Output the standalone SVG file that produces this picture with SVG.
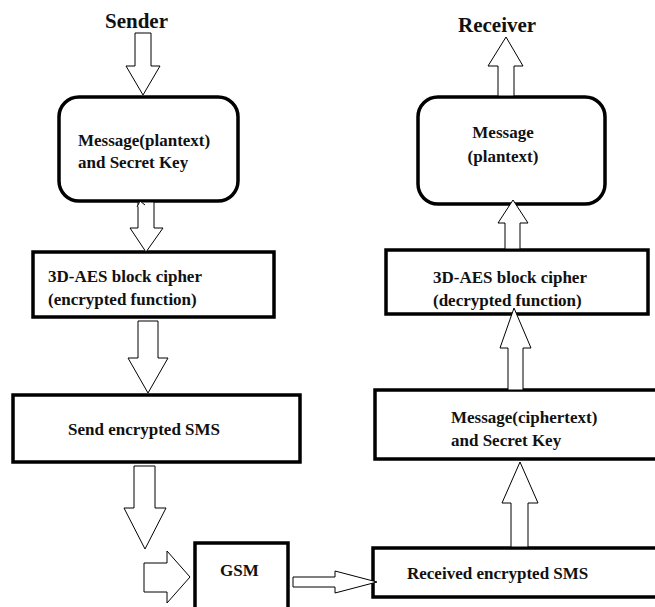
<svg xmlns="http://www.w3.org/2000/svg" width="655" height="607" viewBox="0 0 655 607">
<style>
.box{fill:#fff;stroke:#000;stroke-width:3.5}
.arr{fill:#fff;stroke:#000;stroke-width:1}
.t{font-family:'Liberation Serif',serif;font-weight:700;fill:#111;font-size:17px}
.title{font-size:21px}
</style>
<rect width="655" height="607" fill="#fff"/>
<g id="sender"><text class="t title" x="105" y="28">Sender</text></g>
<g id="receiver"><text class="t title" x="458" y="32">Receiver</text></g>
<g id="msg-plain-sender">
<rect class="box" x="59" y="97" width="179" height="104" rx="20"/>
<text class="t" x="78" y="146">Message(plantext)</text>
<text class="t" x="78" y="168">and Secret Key</text>
</g>
<g id="enc-cipher">
<rect class="box" x="33" y="252" width="241" height="65"/>
<text class="t" x="48" y="282">3D-AES block cipher</text>
<text class="t" x="48" y="305">(encrypted function)</text>
</g>
<g id="send-sms">
<rect class="box" x="13" y="395" width="287" height="67"/>
<text class="t" x="68" y="435">Send encrypted SMS</text>
</g>
<g id="gsm">
<rect class="box" x="195" y="543" width="93" height="70"/>
<text class="t" x="220" y="576">GSM</text>
</g>
<g id="received-sms">
<rect class="box" x="373" y="548" width="290" height="49"/>
<text class="t" x="407" y="579">Received encrypted SMS</text>
</g>
<g id="msg-cipher">
<rect class="box" x="375" y="390" width="290" height="69"/>
<text class="t" x="451" y="423">Message(ciphertext)</text>
<text class="t" x="451" y="446">and Secret Key</text>
</g>
<g id="dec-cipher">
<rect class="box" x="386" y="250" width="262" height="64"/>
<text class="t" x="433" y="283">3D-AES block cipher</text>
<text class="t" x="433" y="306">(decrypted function)</text>
</g>
<g id="msg-plain-receiver">
<rect class="box" x="418" y="97" width="187" height="107" rx="20"/>
<text class="t" x="503" y="138" text-anchor="middle">Message</text>
<text class="t" x="503" y="162" text-anchor="middle">(plantext)</text>
</g>
<g id="connectors">
<polygon class="arr" points="135,33 151,33 151,66 160,66 143,95 126,66 135,66"/>
<polygon class="arr" points="138,202 154,202 154,228 163,228 146,252 130,228 138,228"/>
<polyline class="arr" fill="none" points="137,207 140,201 145,205"/>
<polygon class="arr" points="138,321 158,321 158,358 168,358 148,393 128,358 138,358"/>
<polygon class="arr" points="134,466 155,466 155,508 166,508 145,549 124,508 134,508"/>
<polygon class="arr" points="144,563 167,563 167,551 190,577 167,603 167,592 144,592"/>
<polygon class="arr" points="293,577 335,577 335,571 377,582 335,593 335,587 293,587"/>
<polygon class="arr" points="511,547 528,547 528,503 538,503 520,462 502,503 511,503"/>
<polygon class="arr" points="508,390 523,390 523,348 531,348 514,308 500,348 508,348"/>
<polygon class="arr" points="505,249 520,249 520,223 528,223 513,200 498,223 505,223"/>
<polygon class="arr" points="498,96 514,96 514,66 523,66 506,37 488,66 498,66"/>
</g>
</svg>
